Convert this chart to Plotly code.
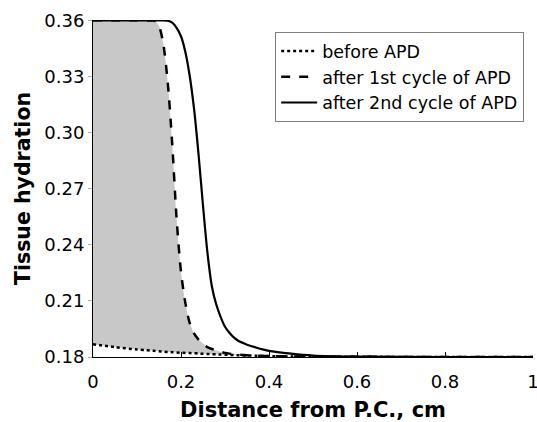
import plotly.graph_objects as go

# distance from P.C. (cm), shared by all three profiles
distance = [0, 0.05, 0.1, 0.12, 0.13, 0.14, 0.15, 0.16, 0.17, 0.18, 0.19, 0.2,
            0.21, 0.22, 0.23, 0.24, 0.25, 0.26, 0.27, 0.28, 0.29, 0.3, 0.31,
            0.32, 0.33, 0.34, 0.35, 0.37, 0.4, 0.45, 0.5, 0.6, 0.8, 1.0]

before_apd = [0.1868, 0.1853, 0.1840, 0.1837, 0.1835, 0.1833, 0.1831, 0.1829,
              0.1827, 0.1826, 0.1824, 0.1823, 0.1822, 0.1821, 0.1820, 0.1819,
              0.1817, 0.1816, 0.1815, 0.1814, 0.1813, 0.1812, 0.1811, 0.1810,
              0.1809, 0.18085, 0.1808, 0.1807, 0.1805, 0.1803, 0.1802, 0.1801,
              0.1800, 0.1800]

after_1st = [0.36, 0.36, 0.36, 0.36, 0.3599, 0.3598, 0.357, 0.347, 0.3265,
             0.294, 0.254, 0.2255, 0.2088, 0.198, 0.1925, 0.1893, 0.1872,
             0.1853, 0.1843, 0.1835, 0.1828, 0.1822, 0.1818, 0.1815, 0.1813,
             0.1811, 0.1809, 0.1807, 0.1805, 0.1803, 0.1802, 0.1801, 0.18,
             0.18]

after_2nd = [0.36, 0.36, 0.36, 0.36, 0.36, 0.36, 0.36, 0.36, 0.3598, 0.3588,
             0.356, 0.3515, 0.343, 0.330, 0.312, 0.288, 0.261, 0.236, 0.218,
             0.2082, 0.2015, 0.1962, 0.1930, 0.1905, 0.1887, 0.1876, 0.1866,
             0.1851, 0.1833, 0.1818, 0.1808, 0.1802, 0.18, 0.18]

x_ticks = [0, 0.2, 0.4, 0.6, 0.8, 1.0]
x_tick_labels = ["0", "0.2", "0.4", "0.6", "0.8", "1"]
y_ticks = [0.18, 0.21, 0.24, 0.27, 0.30, 0.33, 0.36]
y_tick_labels = ["0.18", "0.21", "0.24", "0.27", "0.30", "0.33", "0.36"]

FONT = "DejaVu Sans"

fig = go.Figure()
fig.add_trace(go.Scatter(
    x=distance, y=before_apd, mode="lines", name="before APD",
    line=dict(color="black", width=2.5, dash="dot", shape="spline", smoothing=0.8),
))
# grey band between the initial profile and the one after the 1st cycle
fig.add_trace(go.Scatter(
    x=distance, y=after_1st, mode="lines", showlegend=False, hoverinfo="skip",
    line=dict(color="rgba(0,0,0,0)", width=0, shape="spline", smoothing=0.8),
    fill="tonexty", fillcolor="#c8c8c8",
))
fig.add_trace(go.Scatter(
    x=distance, y=after_1st, mode="lines", name="after 1st cycle of APD",
    line=dict(color="black", width=2.5, dash="dash", shape="spline", smoothing=0.8),
))
fig.add_trace(go.Scatter(
    x=distance, y=after_2nd, mode="lines", name="after 2nd cycle of APD",
    line=dict(color="black", width=2.2, shape="spline", smoothing=0.8),
))

fig.update_layout(
    width=537,
    height=422,
    margin=dict(l=93, r=4, t=20, b=65),
    paper_bgcolor="white",
    plot_bgcolor="white",
    font=dict(family=FONT, color="black", size=18),
    showlegend=True,
    legend=dict(
        x=0.414, y=0.964, xanchor="left", yanchor="top",
        bgcolor="white", bordercolor="#808080", borderwidth=1,
        font=dict(family=FONT, size=17.5),
        traceorder="normal", tracegroupgap=0, itemwidth=36,
    ),
)
fig.update_xaxes(
    range=[0, 1], tickvals=x_ticks, ticktext=x_tick_labels,
    showline=True, linecolor="black", linewidth=1, mirror=False,
    ticks="inside", ticklen=5, tickcolor="black",
    showgrid=False, zeroline=False, automargin=False,
    ticklabeloverflow="allow", ticklabelstandoff=8,
    tickfont=dict(family=FONT, size=18),
    title=dict(text="<b>Distance from P.C., cm</b>",
               font=dict(family=FONT, size=21), standoff=11),
)
fig.update_yaxes(
    range=[0.18, 0.3602], tickvals=y_ticks, ticktext=y_tick_labels,
    showline=True, linecolor="black", linewidth=1, mirror=False,
    ticks="outside", ticklen=4, tickcolor="#b0b0b0",
    showgrid=False, zeroline=False, automargin=False,
    ticklabeloverflow="allow",
    tickfont=dict(family=FONT, size=18),
    title=dict(text="<b>Tissue hydration</b>",
               font=dict(family=FONT, size=20.5), standoff=8),
)

fig.write_html("out.html", config={"displayModeBar": False},
               post_script="document.body.style.margin = '0';")
